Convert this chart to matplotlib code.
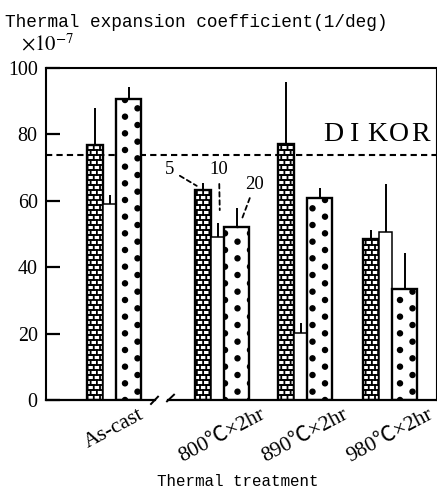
import numpy as np
import matplotlib
matplotlib.use("Agg")
import matplotlib.pyplot as plt
import matplotlib.hatch as mhatch
from matplotlib.path import Path

# --- data (thermal expansion coefficient, x1e-7 /deg) ---
groups = ["As-cast", "800℃×2hr", "890℃×2hr", "980℃×2hr"]
series = ["5", "10", "20"]
val_5 = [76.8, 63.3, 77.1, 48.5]
val_10 = [59.0, 49.2, 20.3, 50.7]
val_20 = [90.7, 52.2, 60.9, 33.5]
err_5 = [11.2, 2.1, 18.8, 2.7]
err_10 = [2.7, 4.1, 2.9, 14.3]
err_20 = [3.6, 5.6, 3.0, 10.8]
dikor = 73.8
yticks = [0, 20, 40, 60, 80, 100]

# --- layout (x axis in pixel-like units) ---
group_x = [68, 176, 259, 344]
widths = [16, 13.5, 25]


# custom hatches: staggered big dots ('.') and bricks ('o')
class BigDots(mhatch.HatchPatternBase):
    def __init__(self, hatch, density):
        n = hatch.count('.')
        circ = Path.unit_circle()
        self.cv, self.cc = circ.vertices, circ.codes
        cs = []
        if n:
            rows, cols = 12 * n, 4 * n
            for r in range(rows + 1):
                if r % 2 == 0:
                    xs = np.arange(cols + 1) / cols
                else:
                    xs = (np.arange(cols) + 0.5) / cols
                cs += [(x, r / rows) for x in xs]
        self.centres = cs
        self.num_vertices = len(cs) * len(self.cv)

    def set_vertices_and_codes(self, vertices, codes):
        nv = len(self.cv)
        for i, (x, y) in enumerate(self.centres):
            vertices[i * nv:(i + 1) * nv] = self.cv * 0.025 + (x, y)
            codes[i * nv:(i + 1) * nv] = self.cc


class Bricks(mhatch.HatchPatternBase):
    def __init__(self, hatch, density):
        n = hatch.count('o')
        segs = []
        if n:
            rows, cols = 20 * n, 16 * n
            for r in range(rows):
                y0, y1 = r / rows, (r + 1) / rows
                segs.append(((0, y0), (1, y0)))
                off = 0 if r % 2 == 0 else 0.5
                for j in range(cols + 1):
                    x = (j + off) / cols
                    if x <= 1:
                        segs.append(((x, y0), (x, y1)))
            segs.append(((0, 1), (1, 1)))
        self.segs = segs
        self.num_vertices = 2 * len(segs)

    def set_vertices_and_codes(self, vertices, codes):
        for i, (a, b) in enumerate(self.segs):
            vertices[2 * i] = a
            vertices[2 * i + 1] = b
            codes[2 * i] = Path.MOVETO
            codes[2 * i + 1] = Path.LINETO


mhatch._hatch_types = [t for t in mhatch._hatch_types
                       if t not in (mhatch.SmallFilledCircles, mhatch.SmallCircles)] + [BigDots, Bricks]

plt.rcParams['mathtext.fontset'] = 'stix'
serif = ['Liberation Serif', 'Noto Sans CJK JP', 'DejaVu Serif']
mono = ['Liberation Mono', 'DejaVu Sans Mono']

fig = plt.figure(figsize=(4.37, 4.97), dpi=100)
ax = fig.add_axes([46 / 437, 97 / 497, 390 / 437, 332 / 497])

vals = [val_5, val_10, val_20]
errs = [err_5, err_10, err_20]
hatches = ['o', None, '.']
hatch_lw = [1.3, 1.0, 1.0]
lws = [1.7, 1.1, 1.7]
total = sum(widths)
for k in range(3):
    plt.rcParams['hatch.linewidth'] = hatch_lw[k]
    left = [gx - total / 2 + sum(widths[:k]) for gx in group_x]
    xc = [l + widths[k] / 2 for l in left]
    ax.bar(xc, vals[k], width=widths[k], facecolor='white', edgecolor='black',
           hatch=hatches[k], linewidth=lws[k], zorder=3)
    ax.errorbar(xc, vals[k], yerr=[np.zeros(4), errs[k]], fmt='none',
                ecolor='black', elinewidth=1.4, capsize=0, zorder=4)

ax.axhline(dikor, color='black', lw=1.5, ls=(0, (3, 2)), zorder=1)
# DIKOR, letter-spaced
for i, ch in enumerate("DIKOR"):
    ax.text(287 + i * 22, dikor + 2.4, ch, family=serif, fontsize=20,
            ha='center', va='bottom')

# series labels with dashed leaders (800 group)
gl = group_x[1] - total / 2
ann = dict(arrowstyle='-', linestyle=(0, (2.5, 2)), lw=1.3, color='black',
           shrinkA=2, shrinkB=0)
ax.annotate(series[0], xy=(gl + 2, val_5[1] + 1.2), xytext=(124, 69.3),
            family=serif, fontsize=13.5, ha='center', va='center', arrowprops=ann)
ax.annotate(series[1], xy=(gl + widths[0] + 9, val_10[1] + 8), xytext=(173, 69.3),
            family=serif, fontsize=13.5, ha='center', va='center', arrowprops=ann)
ax.annotate(series[2], xy=(gl + widths[0] + widths[1] + 18, val_20[1] + 2.6),
            xytext=(209, 65), family=serif, fontsize=13.5, ha='center', va='center',
            arrowprops=ann)

ax.set_xlim(0, 390)
ax.set_ylim(0, 100)
ax.set_yticks(yticks)
ax.set_yticklabels([str(v) for v in yticks], family=serif, fontsize=14.4)
ax.set_xticks(group_x)
ax.set_xticklabels(groups, family=serif, fontsize=15.5, rotation=28, ha='center')
ax.tick_params(axis='y', direction='in', length=10, width=1.6, pad=6)
ax.tick_params(axis='x', length=0, pad=4)

for s in ['left', 'top']:
    ax.spines[s].set_linewidth(1.5)
ax.spines['right'].set_linewidth(0.8)
ax.spines['bottom'].set_visible(False)

# broken bottom axis
tr = ax.get_xaxis_transform()
ax.plot([0, 109], [0, 0], color='black', lw=1.6, transform=tr, clip_on=False, zorder=5)
ax.plot([122, 390], [0, 0], color='black', lw=1.6, transform=tr, clip_on=False, zorder=5)
ax.plot([105, 112], [-0.012, 0.010], color='black', lw=1.4, transform=tr, clip_on=False)
ax.plot([121, 128], [-0.004, 0.016], color='black', lw=1.4, transform=tr, clip_on=False)

fig.text(5 / 437, 1 - 27 / 497, "Thermal expansion coefficient(1/deg)",
         family=mono, fontsize=12.8, va='baseline')
fig.text(21 / 437, 1 - 50 / 497, r"$\times10^{-7}$", fontsize=15, va='baseline')
fig.text(238 / 437, 1 - 486 / 497, "Thermal treatment", family=mono, fontsize=11.4,
         ha='center', va='baseline')

fig.savefig("out.png", dpi=100)
